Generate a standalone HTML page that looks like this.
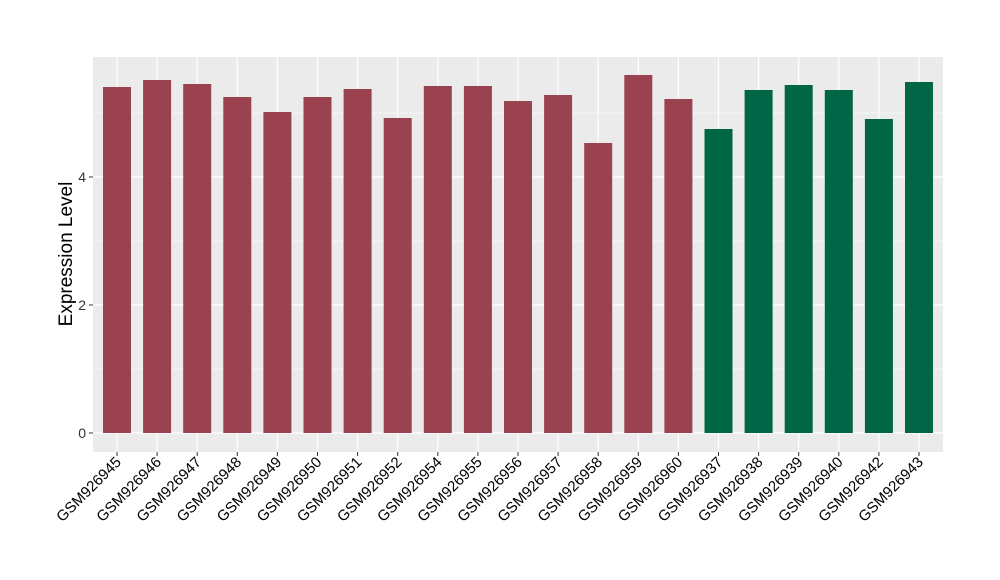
<!DOCTYPE html>
<html><head><style>body{margin:0;background:#fff}svg{display:block}</style></head>
<body>
<svg width="1000" height="580" xmlns="http://www.w3.org/2000/svg" font-family="Liberation Sans, Arial, sans-serif">
<rect x="93" y="57" width="850" height="395" fill="#EBEBEB"/>
<g stroke="#fff" stroke-width="0.6">
<line x1="93" x2="943" y1="369" y2="369"/><line x1="93" x2="943" y1="241" y2="241"/><line x1="93" x2="943" y1="113" y2="113"/>
</g>
<g stroke="#fff" stroke-width="1.2">
<line x1="93" x2="943" y1="433" y2="433"/><line x1="93" x2="943" y1="305" y2="305"/><line x1="93" x2="943" y1="177" y2="177"/>
</g>
<g id="v" stroke="#fff" stroke-width="1.2"></g>
<g id="b"></g>
<g id="t" font-size="15" fill="#000"></g>
<g font-size="14" fill="#333" text-anchor="end">
<text x="86" y="438">0</text><text x="86" y="310">2</text><text x="86" y="182">4</text>
</g>
<g stroke="#333" stroke-width="1"><line x1="89" x2="93" y1="433" y2="433"/><line x1="89" x2="93" y1="305" y2="305"/><line x1="89" x2="93" y1="177" y2="177"/></g>
<text transform="translate(72,254) rotate(-90)" font-size="19" text-anchor="middle" fill="#000">Expression Level</text>
<script>
var names=["GSM926945","GSM926946","GSM926947","GSM926948","GSM926949","GSM926950","GSM926951","GSM926952","GSM926954","GSM926955","GSM926956","GSM926957","GSM926958","GSM926959","GSM926960","GSM926937","GSM926938","GSM926939","GSM926940","GSM926942","GSM926943"];
var tops=[87,80,84,97,112,97,89,118,86,86,101,95,143,75,99,129,90,85,90,119,82];
var ns="http://www.w3.org/2000/svg",v=document.getElementById('v'),b=document.getElementById('b'),t=document.getElementById('t');
for(var i=0;i<21;i++){var cx=117+i*40.1;
var l=document.createElementNS(ns,'line');l.setAttribute('x1',cx);l.setAttribute('x2',cx);l.setAttribute('y1',57);l.setAttribute('y2',452);v.appendChild(l);
var r=document.createElementNS(ns,'rect');r.setAttribute('x',cx-14);r.setAttribute('width',28);r.setAttribute('y',tops[i]);r.setAttribute('height',433-tops[i]);r.setAttribute('fill',i<15?'#9A4250':'#006645');b.appendChild(r);
var k=document.createElementNS(ns,'line');k.setAttribute('x1',cx);k.setAttribute('x2',cx);k.setAttribute('y1',452);k.setAttribute('y2',456);k.setAttribute('stroke','#333');t.appendChild(k);
var x=document.createElementNS(ns,'text');x.setAttribute('text-anchor','end');x.setAttribute('transform','translate('+(cx+5)+',463) rotate(-45)');x.textContent=names[i];t.appendChild(x);}
</script>
</svg>
</body></html>
